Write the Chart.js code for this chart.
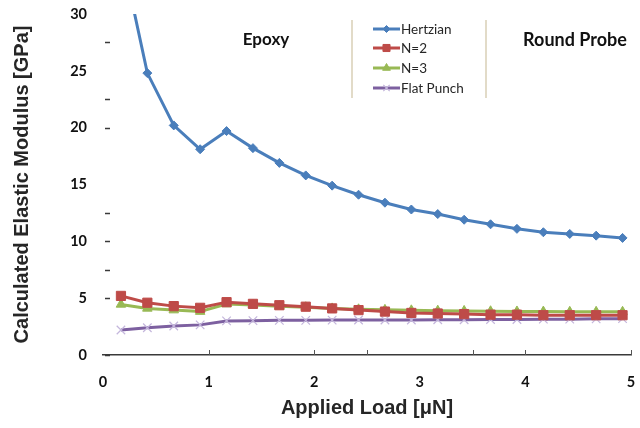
<!DOCTYPE html>
<html>
<head>
<meta charset="utf-8">
<script src="https://cdn.jsdelivr.net/npm/chart.js@4/dist/chart.umd.min.js"></script>
<style>
  html, body { margin: 0; padding: 0; background: #ffffff; }
  #wrap { width: 640px; height: 428px; }
</style>
</head>
<body>
<div id="wrap"><canvas id="c" width="640" height="428"></canvas></div>
<script>
// Applied load (µN) for each indentation
const loads = [0.17, 0.42, 0.67, 0.92, 1.17, 1.42, 1.67, 1.92, 2.17, 2.42,
               2.67, 2.92, 3.17, 3.42, 3.67, 3.92, 4.17, 4.42, 4.67, 4.92];

// Calculated elastic modulus (GPa) per contact model
const hertzian  = [35.6, 24.8, 20.2, 18.1, 19.7, 18.2, 16.9, 15.8, 14.9, 14.1,
                   13.4, 12.8, 12.4, 11.9, 11.5, 11.1, 10.8, 10.65, 10.5, 10.3];
const nTwo      = [5.2, 4.6, 4.3, 4.15, 4.65, 4.5, 4.38, 4.25, 4.1, 3.95,
                   3.82, 3.7, 3.65, 3.6, 3.55, 3.55, 3.5, 3.5, 3.5, 3.5];
const nThree    = [4.45, 4.1, 3.95, 3.82, 4.48, 4.4, 4.28, 4.2, 4.1, 4.02,
                   3.97, 3.93, 3.9, 3.88, 3.85, 3.83, 3.82, 3.8, 3.8, 3.8];
const flatPunch = [2.2, 2.4, 2.55, 2.65, 3.0, 3.02, 3.05, 3.05, 3.07, 3.08,
                   3.08, 3.08, 3.1, 3.1, 3.12, 3.12, 3.15, 3.15, 3.18, 3.2];

const seriesNames = ['Hertzian', 'N=2', 'N=3', 'Flat Punch'];

// Axis tick values
const xTicks = [0, 1, 2, 3, 4, 5];
const yTicks = [0, 5, 10, 15, 20, 25, 30];
// Small inner tick marks along the axes
const xMarks = [1, 2, 2.5, 3.5, 4, 5];
const yMarks = [0, 5, 7.5, 10, 12.5, 20, 22.5, 27.5];

const pts = vals => vals.map((v, i) => ({ x: loads[i], y: v }));

const datasets = [
  { label: seriesNames[0], data: pts(hertzian), borderColor: '#4a7ebb', backgroundColor: '#4a7ebb',
    pointStyle: 'rectRot', pointRadius: 4.5, pointBorderWidth: 1, borderWidth: 3 },
  { label: seriesNames[1], data: pts(nTwo), borderColor: '#be4b48', backgroundColor: '#be4b48',
    pointStyle: 'rect', pointRadius: 6.5, pointBorderWidth: 1, borderWidth: 3 },
  { label: seriesNames[2], data: pts(nThree), borderColor: '#98b954', backgroundColor: '#98b954',
    pointStyle: 'triangle', pointRadius: 5.5, pointBorderWidth: 1, borderWidth: 3 },
  { label: seriesNames[3], data: pts(flatPunch), borderColor: '#7d60a0', backgroundColor: '#7d60a0',
    pointStyle: 'crossRot', pointRadius: 6, pointBorderWidth: 1.2,
    pointBorderColor: '#c4b6dc', borderWidth: 3 }
];

// Inner tick marks, annotations and the framed legend
const decorations = {
  id: 'decorations',
  afterDatasetsDraw(chart) {
    const { ctx, chartArea, scales } = chart;
    ctx.save();
    ctx.strokeStyle = '#3a3a3a';
    ctx.lineWidth = 1.5;
    yMarks.forEach(v => {
      const y = Math.round(scales.y.getPixelForValue(v)) + 0.5;
      ctx.beginPath();
      ctx.moveTo(chartArea.left + 2, y);
      ctx.lineTo(chartArea.left + 7, y);
      ctx.stroke();
    });
    ctx.strokeStyle = '#555555';
    ctx.lineWidth = 1;
    xMarks.forEach(v => {
      const x = Math.round(scales.x.getPixelForValue(v)) + 0.5;
      ctx.beginPath();
      ctx.moveTo(x, chartArea.bottom);
      ctx.lineTo(x, chartArea.bottom - 5);
      ctx.stroke();
    });

    // Annotations
    ctx.fillStyle = '#111111';
    ctx.font = 'bold 17px Lato, "Open Sans", sans-serif';
    ctx.textAlign = 'center';
    ctx.textBaseline = 'middle';
    ctx.fillText('Epoxy', 266, 40);
    ctx.font = 'bold 18px Lato, "Open Sans", sans-serif';
    ctx.fillText('Round Probe', 575, 40);

    // Legend frame
    ctx.strokeStyle = '#d8cfb6';
    ctx.lineWidth = 1.5;
    [352, 486].forEach(x => {
      ctx.beginPath();
      ctx.moveTo(x, 20);
      ctx.lineTo(x, 98);
      ctx.stroke();
    });

    // Legend entries
    const rows = [29, 48, 68, 88];
    const radii = [3.5, 5, 4.5, 4.5];
    chart.data.datasets.forEach((ds, i) => {
      const y = rows[i];
      ctx.strokeStyle = ds.borderColor;
      ctx.lineWidth = 3;
      ctx.beginPath();
      ctx.moveTo(373, y);
      ctx.lineTo(400, y);
      ctx.stroke();
      ctx.fillStyle = ds.backgroundColor;
      ctx.strokeStyle = ds.pointBorderColor || ds.borderColor;
      ctx.lineWidth = ds.pointBorderWidth;
      Chart.helpers.drawPoint(ctx, { pointStyle: ds.pointStyle, radius: radii[i], borderWidth: ds.pointBorderWidth, rotation: 0 }, 386.5, y);
      ctx.fillStyle = '#262626';
      ctx.font = '13.5px Lato, "Open Sans", sans-serif';
      ctx.textAlign = 'left';
      ctx.textBaseline = 'middle';
      ctx.fillText(ds.label, 401, y + 0.5);
    });
    ctx.restore();
  }
};

new Chart(document.getElementById('c'), {
  type: 'line',
  data: { datasets },
  options: {
    responsive: false,
    animation: false,
    layout: { autoPadding: false, padding: { top: 14, right: 9, left: 0, bottom: 0 } },
    plugins: { legend: { display: false }, tooltip: { enabled: false } },
    scales: {
      x: {
        type: 'linear',
        min: 0, max: 5,
        afterBuildTicks: s => { s.ticks = xTicks.map(v => ({ value: v })); },
        afterFit: s => { s.height = 73; s.paddingLeft = 0; s.paddingRight = 0; },
        grid: { display: false, drawTicks: false },
        border: { display: true, color: '#3a3a3a', width: 1.5 },
        ticks: {
          padding: 19,
          color: '#111111',
          font: { family: 'Lato, "Open Sans", sans-serif', size: 14.5, weight: 'bold' },
          callback: v => String(v)
        },
        title: {
          display: true,
          text: 'Applied Load [\u03bcN]',
          color: '#262626',
          font: { family: '"Liberation Sans", Arial, sans-serif', size: 20, weight: 'bold' },
          padding: { top: 0, bottom: 8 }
        }
      },
      y: {
        min: 0, max: 30,
        afterBuildTicks: s => { s.ticks = yTicks.map(v => ({ value: v })); },
        afterFit: s => { s.width = 103; s.paddingTop = 0; s.paddingBottom = 0; },
        grid: { display: false, drawTicks: false },
        border: { display: false },
        ticks: {
          padding: 16,
          color: '#111111',
          font: { family: 'Lato, "Open Sans", sans-serif', size: 14.5, weight: 'bold' },
          callback: v => String(v)
        },
        title: {
          display: true,
          text: 'Calculated Elastic Modulus [GPa]',
          color: '#262626',
          font: { family: '"Liberation Sans", Arial, sans-serif', size: 20, weight: 'bold' },
          padding: { top: 10, bottom: 0 }
        }
      }
    }
  },
  plugins: [decorations]
});
</script>
</body>
</html>
